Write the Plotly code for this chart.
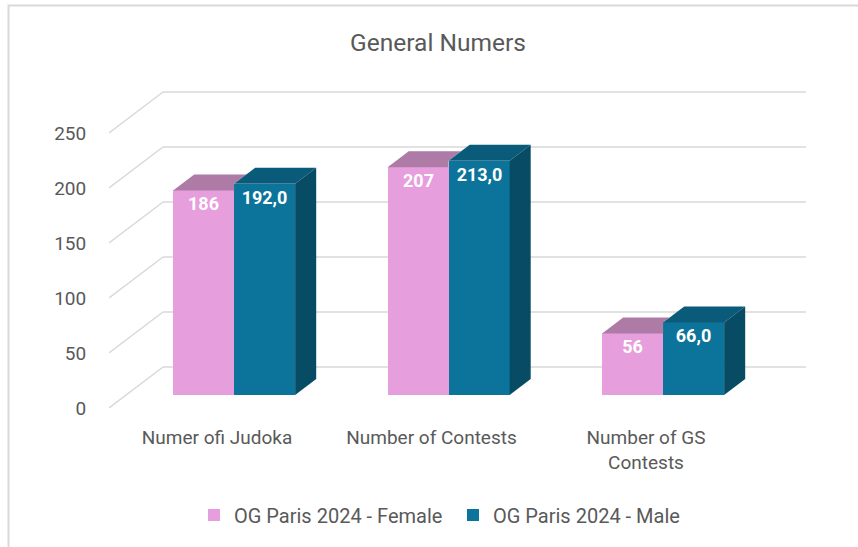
import plotly.graph_objects as go

# ---------------- data ----------------
categories = ["Numer ofi Judoka", "Number of Contests", "Number of GS<br>Contests"]
female_values = [186, 207, 56]
male_values = [192, 213, 66]
female_name = "OG Paris 2024 - Female"
male_name = "OG Paris 2024 - Male"
y_ticks = [0, 50, 100, 150, 200, 250]
title_text = "General Numers"

# ---------------- layout geometry (pixels) ----------------
W, H = 858, 547
ML, MR, MT, MB = 109, 52, 80, 139
PW, PH = W - ML - MR, H - MT - MB
PX_PER_CAT = 214.5          # pixels per category step
PX_PER_VAL = 1.1            # pixels per value unit
X0_PX = 108                 # pixel offset (from plot left) of category 0 label
x_range = [-X0_PX / PX_PER_CAT, (PW - X0_PX) / PX_PER_CAT]
y_range = [0, PH / PX_PER_VAL]

# 3D depth vector (front floor edge -> back wall)
DEPTH_DX_PX, DEPTH_DY_PX = 54, 41
du = DEPTH_DX_PX / PX_PER_CAT
dv = DEPTH_DY_PX / PX_PER_VAL
f_front, f_back = 13 / 41, 29 / 41     # bar front / back depth fractions
bar_w = 61 / PX_PER_CAT

base_front = f_front * dv
base_back = f_back * dv
shift_front = f_front * du
ddu = (f_back - f_front) * du
ddv = (f_back - f_front) * dv

# colours
fem_front, fem_top = "#E69EDC", "#AE7BA7"
male_front, male_top, male_side = "#0C739A", "#0A5A7A", "#074C64"
grid_col = "#D9D9D9"
text_col = "#595959"
FONT = "Roboto"

fig = go.Figure()

n = len(categories)
fem_x = [i - bar_w / 2 + shift_front for i in range(n)]
male_x = [i + bar_w / 2 + shift_front for i in range(n)]

fig.add_trace(go.Bar(
    x=fem_x, y=female_values, base=[base_front] * n, width=bar_w,
    name=female_name, marker=dict(color=fem_front, line=dict(width=0)),
    text=[str(v) for v in female_values], textposition="inside",
    insidetextanchor="end", constraintext="none",
    textfont=dict(family=FONT, size=18, color="white", weight="bold"),
    hoverinfo="skip",
))
fig.add_trace(go.Bar(
    x=male_x, y=male_values, base=[base_front] * n, width=bar_w,
    name=male_name, marker=dict(color=male_front, line=dict(width=0)),
    text=[f"{v:.1f}".replace(".", ",") for v in male_values], textposition="inside",
    insidetextanchor="end", constraintext="none",
    textfont=dict(family=FONT, size=18, color="white", weight="bold"),
    hoverinfo="skip",
))

# top faces and side faces (scatter fills in data coordinates)
for i in range(n):
    vf, vm = female_values[i], male_values[i]
    x0 = i - bar_w + shift_front
    x1 = i + shift_front
    x2 = i + bar_w + shift_front
    # female top face, clipped by the (taller) male bar silhouette
    t = (vf + ddv - vm) / dv
    if t > 0:
        xs = [x0, x1, x1, x1 + t * du, x0 + ddu, x0]
        ys = [vf + base_front, vf + base_front, vm + base_front,
              vf + base_back, vf + base_back, vf + base_front]
    else:
        xs = [x0, x1, x1 + ddu, x0 + ddu, x0]
        ys = [vf + base_front, vf + base_front, vf + base_back, vf + base_back, vf + base_front]
    fig.add_trace(go.Scatter(x=xs, y=ys, mode="lines", fill="toself",
                             fillcolor=fem_top, line=dict(width=0),
                             showlegend=False, hoverinfo="skip"))
    # male top face
    fig.add_trace(go.Scatter(
        x=[x1, x2, x2 + ddu, x1 + ddu, x1],
        y=[vm + base_front, vm + base_front, vm + base_back, vm + base_back, vm + base_front],
        mode="lines", fill="toself", fillcolor=male_top, line=dict(width=0),
        showlegend=False, hoverinfo="skip"))
    # male side face
    fig.add_trace(go.Scatter(
        x=[x2, x2, x2 + ddu, x2 + ddu, x2],
        y=[base_front, vm + base_front, vm + base_back, base_back, base_front],
        mode="lines", fill="toself", fillcolor=male_side, line=dict(width=0),
        showlegend=False, hoverinfo="skip"))

# gridlines: slanted floor-to-wall segment + back wall line
shapes = []
for tv in y_ticks:
    shapes.append(dict(type="line", xref="x", yref="y", layer="below",
                       x0=x_range[0], y0=tv, x1=x_range[0] + du, y1=tv + dv,
                       line=dict(color=grid_col, width=1.5)))
    shapes.append(dict(type="line", xref="x", yref="y", layer="below",
                       x0=x_range[0] + du, y0=tv + dv, x1=x_range[1], y1=tv + dv,
                       line=dict(color=grid_col, width=1.5)))
# chart border (top/left visible)
shapes.append(dict(type="rect", xref="paper", yref="paper", layer="below",
                   x0=(8.5 - ML) / PW, x1=1.3, y0=-0.6, y1=(MT + PH - 5.5) / PH,
                   line=dict(color=grid_col, width=2)))

fig.update_layout(
    width=W, height=H,
    margin=dict(l=ML, r=MR, t=MT, b=MB),
    paper_bgcolor="white", plot_bgcolor="white",
    barmode="overlay", bargap=0,
    shapes=shapes,
    font=dict(family=FONT, color=text_col),
    title=dict(text=title_text, x=438 / W, xref="container", xanchor="center",
               y=1 - 42 / H, yref="container", yanchor="middle",
               font=dict(family=FONT, size=24.5, color=text_col)),
    xaxis=dict(range=x_range, tickvals=list(range(n)), ticktext=categories,
               showgrid=False, zeroline=False, showline=False,
               ticks="outside", ticklen=12, tickcolor="rgba(0,0,0,0)",
               tickfont=dict(family=FONT, size=19, color=text_col)),
    yaxis=dict(range=y_range, tickvals=y_ticks, ticktext=[str(v) for v in y_ticks],
               showgrid=False, zeroline=False, showline=False,
               ticks="outside", ticklen=18, tickcolor="rgba(0,0,0,0)",
               tickfont=dict(family=FONT, size=19, color=text_col)),
    legend=dict(orientation="h", xref="container", x=194 / W, xanchor="left",
                yref="container", y=1 - 515 / H, yanchor="middle",
                entrywidth=214, entrywidthmode="pixels",
                font=dict(family=FONT, size=20, color=text_col),
                bgcolor="rgba(0,0,0,0)"),
    showlegend=True,
)

fig.write_html("out.html", config={"displayModeBar": False},
               post_script="document.body.style.margin='0';document.body.style.padding='0';")
